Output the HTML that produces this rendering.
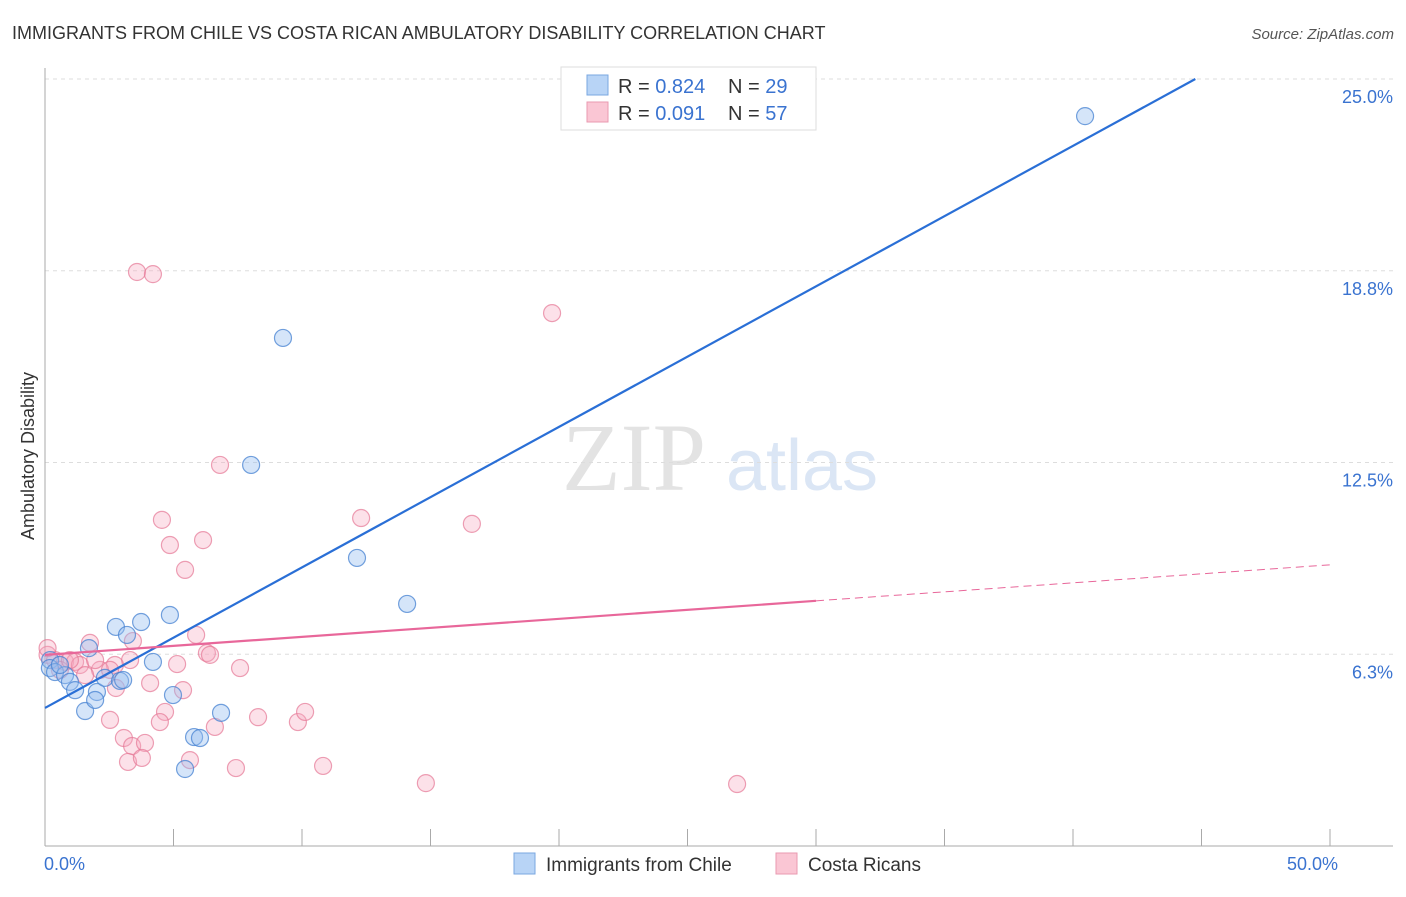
<!DOCTYPE html>
<html><head><meta charset="utf-8"><style>
body{margin:0;background:#fff;font-family:"Liberation Sans",sans-serif;}
</style></head><body>
<svg id="c" width="1406" height="892" xmlns="http://www.w3.org/2000/svg">
<text x="12" y="39" font-size="18" fill="#333">IMMIGRANTS FROM CHILE VS COSTA RICAN AMBULATORY DISABILITY CORRELATION CHART</text>
<text x="1394" y="39" font-size="15" fill="#555" font-style="italic" text-anchor="end">Source: ZipAtlas.com</text>
<text x="634" y="490" font-size="96" fill="#e3e3e3" font-family="Liberation Serif,serif" text-anchor="middle">ZIP</text>
<text x="802" y="490" font-size="72" fill="#dbe6f5" text-anchor="middle">atlas</text>
<text transform="translate(34,456) rotate(-90)" font-size="18" fill="#333" text-anchor="middle">Ambulatory Disability</text>
<g id="grid"></g><g id="pts"></g><g id="lines"></g>
<g>
<rect x="561" y="67" width="255" height="63" fill="#fff" stroke="#ddd"/>
<rect x="587" y="75" width="21" height="20" fill="#b8d4f6" stroke="#7aa7e0"/>
<rect x="587" y="102" width="21" height="20" fill="#fac6d4" stroke="#e99ab0"/>
<text x="618" y="93" font-size="20" fill="#333">R = <tspan fill="#3a73d0">0.824</tspan><tspan x="728">N = </tspan><tspan fill="#3a73d0">29</tspan></text>
<text x="618" y="120" font-size="20" fill="#333">R = <tspan fill="#3a73d0"> 0.091</tspan><tspan x="728">N = </tspan><tspan fill="#3a73d0">57</tspan></text>
</g>
<rect x="514" y="853" width="21" height="21" fill="#b8d4f6" stroke="#7aa7e0"/>
<text x="546" y="871" font-size="19" fill="#333">Immigrants from Chile</text>
<rect x="776" y="853" width="21" height="21" fill="#fac6d4" stroke="#e99ab0"/>
<text x="808" y="871" font-size="19" fill="#333">Costa Ricans</text>
</svg>
<script>
const xTicks=[0,5,10,15,20,25,30,35,40,45,50];
const yTicks=[25,18.75,12.5,6.25];
const yTickLabels=["25.0%","18.8%","12.5%","6.3%"];
const xLabels=["0.0%","50.0%"];
const chileX=[40.47,9.26,8.02,12.14,14.09,4.86,3.74,2.76,3.19,4.20,1.71,0.2,0.19,0.39,0.78,0.97,1.17,1.56,2.02,1.95,2.33,2.92,4.98,6.85,5.80,6.03,5.45,0.58,3.04];
const chileY=[23.79,16.56,12.42,9.39,7.89,7.53,7.30,7.14,6.88,6.00,6.45,6.06,5.80,5.67,5.57,5.35,5.08,4.40,5.02,4.76,5.48,5.38,4.92,4.34,3.55,3.52,2.51,5.90,5.41];
const costaX=[3.58,4.20,19.73,6.81,12.30,4.55,16.61,4.86,6.15,5.45,3.42,1.75,5.88,6.30,6.42,7.59,5.14,3.31,2.72,0.1,0.39,0.78,1.17,1.36,2.14,2.53,4.09,2.76,5.37,4.67,2.53,4.47,6.61,8.29,9.84,10.12,3.07,3.39,3.89,3.23,3.77,5.64,7.43,10.82,14.82,26.93,0.58,1.56,0.1,0.97,1.95];
const costaY=[18.71,18.64,17.37,12.42,10.69,10.63,10.50,9.81,9.97,9.00,6.68,6.62,6.88,6.29,6.23,5.80,5.93,6.06,5.90,6.23,6.06,6.00,6.00,5.90,5.74,5.74,5.31,5.15,5.08,4.37,4.11,4.04,3.88,4.20,4.04,4.37,3.52,3.26,3.36,2.74,2.87,2.80,2.54,2.61,2.05,2.02,5.74,5.57,6.45,6.06,6.06];
const chileTrend=[4.5,0.458];
const costaTrend=[6.23,0.0587];
const NS="http://www.w3.org/2000/svg";
const X=v=>45+v*25.7, Y=v=>846-v*30.68;
function mk(t,a,p){const e=document.createElementNS(NS,t);for(const k in a)e.setAttribute(k,a[k]);p.appendChild(e);return e;}
const g=document.getElementById('grid'),pts=document.getElementById('pts'),ln=document.getElementById('lines');
yTicks.forEach((v,i)=>{
 const l=mk('line',{x1:45,x2:1393,y1:Y(v),y2:Y(v),stroke:'#ddd','stroke-dasharray':'4,4'},g);
 
 
 const t=mk('text',{x:1393,y:Y(v)+24,'font-size':18,fill:'#3a73d0','text-anchor':'end'},g);t.textContent=yTickLabels[i];
 
 
});
const ax=mk('line',{x1:45,x2:1393,y1:846,y2:846,stroke:'#aaa'},g);


const ay=mk('line',{x1:45,x2:45,y1:68,y2:846,stroke:'#aaa'},g);


xTicks.forEach(v=>{const l=mk('line',{x1:X(v),x2:X(v),y1:829,y2:846,stroke:'#aaa'},g);
 
 });
[[0,'start'],[50,'end']].forEach((p,i)=>{const t=mk('text',{x:X(p[0])+(i?8:-1),y:870,'font-size':18,fill:'#3a73d0','text-anchor':p[1]},g);t.textContent=xLabels[i];
 
 });
costaX.forEach((x,i)=>{const c=mk('circle',{cx:X(x),cy:Y(costaY[i]),r:8.5,fill:'rgba(246,170,192,0.35)',stroke:'rgba(230,120,150,0.7)','stroke-width':1.2},pts);
 
 });
chileX.forEach((x,i)=>{const c=mk('circle',{cx:X(x),cy:Y(chileY[i]),r:8.5,fill:'rgba(150,190,240,0.4)',stroke:'rgba(70,130,210,0.75)','stroke-width':1.2},pts);
 
 });
const bEnd=(25-chileTrend[0])/chileTrend[1];
const b=mk('line',{x1:X(0),y1:Y(chileTrend[0]),x2:X(bEnd),y2:Y(25),stroke:'#2a6fd6','stroke-width':2.2},ln);


const p1=mk('line',{x1:X(0),y1:Y(costaTrend[0]),x2:X(30),y2:Y(costaTrend[0]+30*costaTrend[1]),stroke:'#e8679a','stroke-width':2.2},ln);


const p2=mk('line',{x1:X(30),y1:Y(costaTrend[0]+30*costaTrend[1]),x2:X(50),y2:Y(costaTrend[0]+50*costaTrend[1]),stroke:'#e8679a','stroke-width':1,'stroke-dasharray':'8,5'},ln);


</script>
</body></html>
